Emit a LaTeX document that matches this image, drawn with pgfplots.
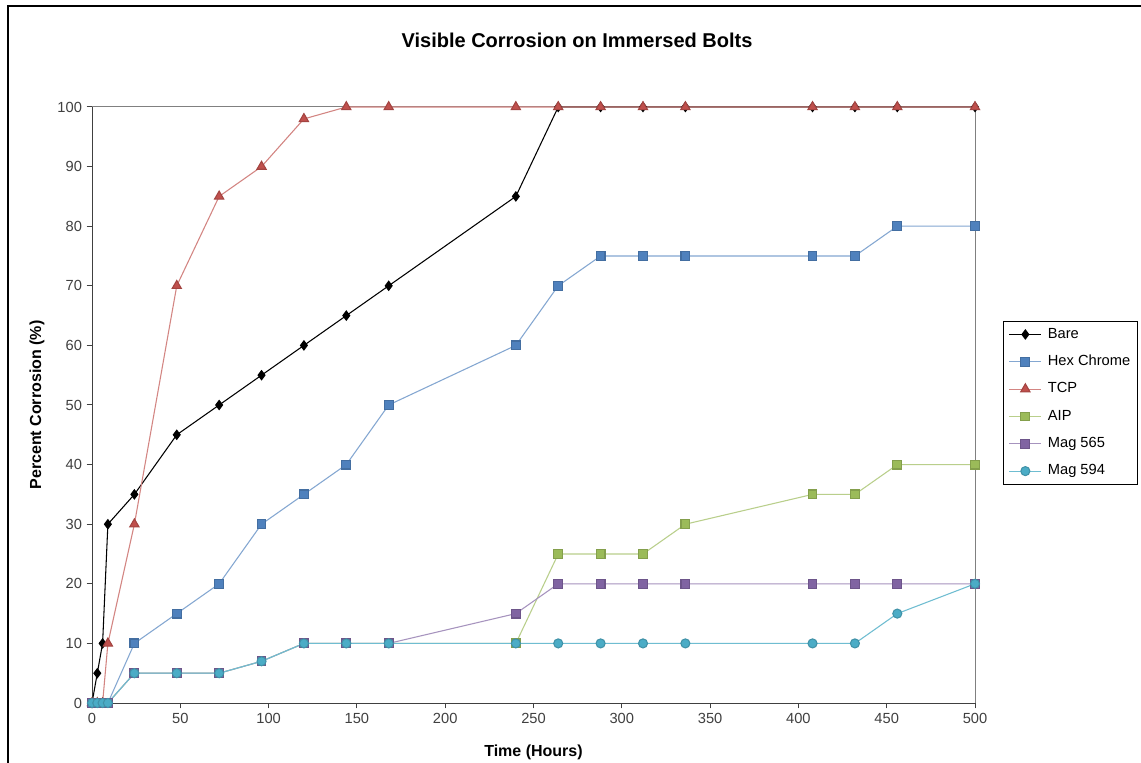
\documentclass[border=0pt]{standalone}
\usepackage{pgfplots}
\pgfplotsset{compat=1.18}
\usepackage{fontspec}
\setmainfont{Liberation Sans}

\definecolor{hexc}{HTML}{4F81BD}
\definecolor{tcp}{HTML}{C0504D}
\definecolor{aip}{HTML}{9BBB59}
\definecolor{magA}{HTML}{8064A2}
\definecolor{magB}{HTML}{4BACC6}

\pgfplotsset{
  legend image code/.code={%
    \draw[mark repeat=2,mark phase=2,#1]
      plot coordinates {(0pt,0pt) (12pt,0pt) (24pt,0pt)};}
}

\begin{document}
\begin{tikzpicture}
\path[use as bounding box, fill=white] (-69pt,-45pt) rectangle (786.75pt,527.25pt);
% chart frame
\draw[line width=1.6pt] (-63pt,-60pt) -- (-63pt,522.75pt) -- (800pt,522.75pt);
\node[font=\bfseries\fontsize{15}{18}\selectfont] at (363.75pt,497.25pt)
  {Visible Corrosion on Immersed Bolts};
\begin{axis}[
  scale only axis, width=662.25pt, height=447pt,
  xmin=0, xmax=500, ymin=0, ymax=100,
  axis x line*=bottom, axis y line*=left,
  axis line style={draw=black!75, line width=0.75pt},
  xtick={0,50,...,500}, ytick={0,10,...,100},
  tick align=outside, major tick length=4pt,
  tick style={black!75, line width=0.75pt},
  ticklabel style={font=\fontsize{11}{13}\selectfont, text=black!75},
  /pgf/number format/assume math mode=true,
  xlabel={Time (Hours)}, ylabel={Percent Corrosion (\%)},
  label style={font=\bfseries\fontsize{12}{14}\selectfont},
  xlabel style={at={(axis description cs:0.5,-0.0822)}, anchor=center},
  ylabel style={at={(axis description cs:-0.0623,0.5)}, anchor=center},
  clip=false,
  legend cell align=left,
  legend style={at={(axis description cs:1.0317,0.641)}, anchor=north west,
    draw=black, line width=0.75pt, font=\fontsize{11}{13}\selectfont,
    inner xsep=4pt, inner ysep=3pt, row sep=7pt,
    nodes={inner sep=1.5pt, text height=8pt, text depth=2.5pt},
    /tikz/every odd column/.append style={column sep=3pt}},
]
\draw[black!50, line width=0.75pt] (rel axis cs:0,1) -- (rel axis cs:1,1) -- (rel axis cs:1,0);

% Bare
\addplot[black, line width=0.8pt, mark=diamond*, mark size=3.4pt,
  mark options={fill=black, draw=black}] coordinates {
  (0,0) (3,5) (6,10) (9,30) (24,35) (48,45) (72,50) (96,55) (120,60)
  (144,65) (168,70) (240,85) (264,100) (288,100) (312,100) (336,100)
  (408,100) (432,100) (456,100) (500,100)};
\addlegendentry{Bare}

% Hex Chrome
\addplot[hexc!70!white, line width=0.8pt, mark=square*, mark size=3.3pt,
  mark options={fill=hexc, draw=hexc!85!black}] coordinates {
  (0,0) (3,0) (6,0) (9,0) (24,10) (48,15) (72,20) (96,30) (120,35)
  (144,40) (168,50) (240,60) (264,70) (288,75) (312,75) (336,75)
  (408,75) (432,75) (456,80) (500,80)};
\addlegendentry{Hex Chrome}

% TCP
\addplot[tcp!70!white, line width=0.8pt, mark=triangle*, mark size=4pt,
  mark options={fill=tcp, draw=tcp!85!black}] coordinates {
  (0,0) (3,0) (6,0) (9,10) (24,30) (48,70) (72,85) (96,90) (120,98)
  (144,100) (168,100) (240,100) (264,100) (288,100) (312,100) (336,100)
  (408,100) (432,100) (456,100) (500,100)};
\addlegendentry{TCP}

% AIP
\addplot[aip!70!white, line width=0.8pt, mark=square*, mark size=3.3pt,
  mark options={fill=aip, draw=aip!85!black}] coordinates {
  (0,0) (3,0) (6,0) (9,0) (24,5) (48,5) (72,5) (96,7) (120,10)
  (144,10) (168,10) (240,10) (264,25) (288,25) (312,25) (336,30)
  (408,35) (432,35) (456,40) (500,40)};
\addlegendentry{AIP}

% Mag 565
\addplot[magA!70!white, line width=0.8pt, mark=square*, mark size=3.3pt,
  mark options={fill=magA, draw=magA!85!black}] coordinates {
  (0,0) (3,0) (6,0) (9,0) (24,5) (48,5) (72,5) (96,7) (120,10)
  (144,10) (168,10) (240,15) (264,20) (288,20) (312,20) (336,20)
  (408,20) (432,20) (456,20) (500,20)};
\addlegendentry{Mag 565}

% Mag 594
\addplot[magB!80!white, line width=0.8pt, mark=*, mark size=3.4pt,
  mark options={fill=magB, draw=magB!85!black}] coordinates {
  (0,0) (3,0) (6,0) (9,0) (24,5) (48,5) (72,5) (96,7) (120,10)
  (144,10) (168,10) (240,10) (264,10) (288,10) (312,10) (336,10)
  (408,10) (432,10) (456,15) (500,20)};
\addlegendentry{Mag 594}
\end{axis}
\end{tikzpicture}
\end{document}
